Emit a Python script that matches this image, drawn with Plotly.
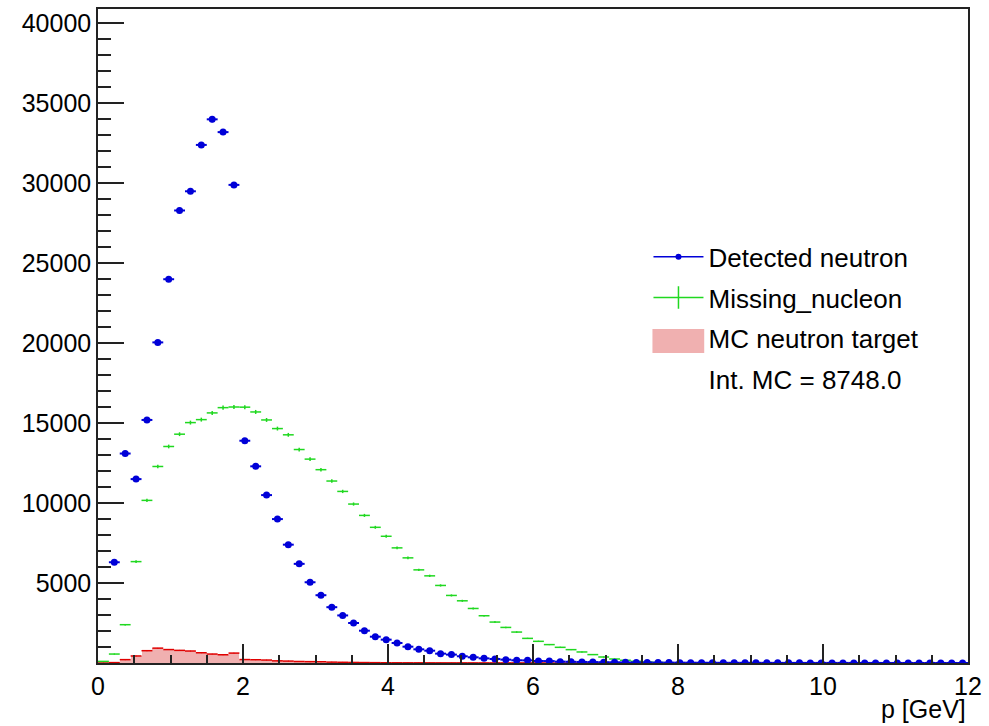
import plotly.graph_objects as go

# Histogram binning: 80 bins of 0.15 GeV from 0 to 12
bin_width = 0.15
bin_centers = [round(0.075 + 0.15 * i, 3) for i in range(80)]

detected_neutron = [
    None, 6300, 13100, 11500, 15200, 20050, 24000, 28300, 29500, 32400,
    34000, 33200, 29900, 13900, 12300, 10500, 9000, 7400, 6200, 5050,
    4240, 3490, 2975, 2500, 2020, 1645, 1460, 1250, 1020, 855,
    770, 585, 525, 420, 355, 290, 250, 210, 170, 165,
    125, 120, 85, 75, 65, 58, 50, 45, 40, 36,
    32, 28, 25, 22, 20, 18, 16, 14, 13, 12,
    11, 10, 9, 8, 8, 7, 7, 6, 6, 5,
    5, 5, 4, 4, 4, 3, 3, 3, 3, 2,
]

missing_nucleon = [
    100, 560, 2395, 6340, 10170, 12290, 13540, 14310, 15035, 15220,
    15640, 15970, 16010, 16000, 15700, 15200, 14660, 14270, 13350, 12750,
    12090, 11380, 10730, 9940, 9230, 8485, 7925, 7200, 6575, 5825,
    5450, 4850, 4225, 3890, 3410, 2955, 2560, 2225, 1935, 1540,
    1355, 1150, 980, 835, 690, 525, 375, 250, 170, 105,
    60, 30, 10, None, None, None, None, None, None, None,
    None, None, None, None, None, None, None, None, None, None,
    None, None, None, None, None, None, None, None, None, None,
]

mc_neutron_target = [
    0, 25, 210, 440, 770, 930, 840, 790, 750, 640,
    560, 515, 620, 215, 205, 185, 135, 120, 95, 85,
    80, 55, 45, 35, 28, 22, 16, 13, 11, 10,
    8, 6, 5, 5, 4, 3, 3, 2, 2, 1,
    1, 0, 0, 0, 0, 0, 0, 0, 0, 0,
    0, 0, 0, 0, 0, 0, 0, 0, 0, 0,
    0, 0, 0, 0, 0, 0, 0, 0, 0, 0,
    0, 0, 0, 0, 0, 0, 0, 0, 0, 0,
]

x_ticks = [0, 2, 4, 6, 8, 10, 12]
y_ticks = [5000, 10000, 15000, 20000, 25000, 30000, 35000, 40000]
mc_integral_text = "Int. MC = 8748.0"

BLUE = "#0000d8"
GREEN = "#20d820"
RED_LINE = "#e00000"
RED_FILL = "#f0b0b0"
FONT = "Liberation Sans, Arial, Helvetica, sans-serif"

# plot-area geometry (pixels) used for paper-coordinate placement of legend key
FIG_W, FIG_H = 989, 726
M_L, M_R, M_T, M_B = 98, 17, 7, 63
PW = FIG_W - M_L - M_R
PH = FIG_H - M_T - M_B


def px_to_paper_x(px):
    return (px - M_L) / PW


def px_to_paper_y(py):
    return (FIG_H - M_B - py) / PH


def sqrt_err(vals):
    return [None if v is None else v ** 0.5 for v in vals]


half_w = [bin_width / 2] * len(bin_centers)

fig = go.Figure()

# MC neutron target: filled histogram + red bin tops
fig.add_trace(go.Bar(
    x=bin_centers, y=mc_neutron_target, width=bin_width,
    marker=dict(color=RED_FILL, line=dict(width=0)),
    showlegend=False, hoverinfo="skip",
))
fig.add_trace(go.Scatter(
    x=bin_centers, y=mc_neutron_target, mode="markers",
    marker=dict(size=1, color=RED_LINE),
    error_x=dict(type="data", array=half_w, color=RED_LINE, thickness=1.5, width=0),
    showlegend=False,
))

# Missing nucleon: crosses
fig.add_trace(go.Scatter(
    x=bin_centers, y=missing_nucleon, mode="markers",
    marker=dict(size=1, color=GREEN),
    error_x=dict(type="data", array=half_w, color=GREEN, thickness=1.5, width=0),
    error_y=dict(type="data", array=sqrt_err(missing_nucleon), color=GREEN, thickness=1.5, width=0),
    showlegend=False,
))

# Detected neutron: dots with error bars
fig.add_trace(go.Scatter(
    x=bin_centers, y=detected_neutron, mode="markers",
    marker=dict(size=7, color=BLUE, symbol="circle"),
    error_x=dict(type="data", array=half_w, color=BLUE, thickness=2, width=0),
    error_y=dict(type="data", array=sqrt_err(detected_neutron), color=BLUE, thickness=2, width=0),
    showlegend=False,
))

# Legend entries
fig.add_trace(go.Scatter(
    x=[None], y=[None], mode="lines+markers", name="Detected neutron",
    line=dict(color=BLUE, width=1.5), marker=dict(size=6, color=BLUE),
    legendgroup="a",
))
fig.add_trace(go.Scatter(
    x=[None], y=[None], mode="lines+markers", name="Missing_nucleon",
    line=dict(color=GREEN, width=1.5),
    marker=dict(size=16, color=GREEN, symbol="line-ns", line=dict(color=GREEN, width=1.5)),
    legendgroup="b",
))
fig.add_trace(go.Scatter(
    x=[None], y=[None], mode="lines", name="MC neutron target",
    line=dict(color="rgba(0,0,0,0)", width=0),
    legendgroup="c",
))
fig.add_trace(go.Scatter(
    x=[None], y=[None], mode="lines", name=mc_integral_text,
    line=dict(color="rgba(0,0,0,0)", width=0),
    legendgroup="d",
))

# Legend key swatch for the filled MC histogram
legend_shapes = [dict(
    type="rect", xref="paper", yref="paper",
    x0=px_to_paper_x(655), x1=px_to_paper_x(707),
    y0=px_to_paper_y(352), y1=px_to_paper_y(328),
    fillcolor=RED_FILL, line=dict(width=0), layer="above",
)]

fig.update_layout(
    width=FIG_W, height=FIG_H,
    margin=dict(l=M_L, r=M_R, t=M_T, b=M_B),
    paper_bgcolor="white", plot_bgcolor="white",
    font=dict(family=FONT, size=25, color="black"),
    barmode="overlay",
    bargap=0,
    legend=dict(
        x=px_to_paper_x(651), y=px_to_paper_y(232), xanchor="left", yanchor="top",
        bgcolor="rgba(0,0,0,0)", borderwidth=0,
        font=dict(family=FONT, size=26, color="black"),
        tracegroupgap=4, traceorder="grouped",
        itemwidth=50,
    ),
    shapes=legend_shapes,
    xaxis=dict(
        range=[0, 12], tickmode="array", tickvals=x_ticks,
        ticks="inside", ticklen=19, tickwidth=1.5, tickcolor="#222",
        minor=dict(tickmode="linear", tick0=0, dtick=0.5, ticks="inside",
                   ticklen=8, tickwidth=1.5, tickcolor="#222"),
        showline=True, linecolor="#222", linewidth=1.5, mirror=True,
        showgrid=False, zeroline=False,
        tickfont=dict(family=FONT, size=25, color="black"),
    ),
    yaxis=dict(
        range=[0, 40900], tickmode="array", tickvals=y_ticks,
        ticks="inside", ticklen=26, tickwidth=1.5, tickcolor="#222",
        minor=dict(tickmode="linear", tick0=0, dtick=1000, ticks="inside",
                   ticklen=13, tickwidth=1.5, tickcolor="#222"),
        showline=True, linecolor="#222", linewidth=1.5, mirror=True,
        showgrid=False, zeroline=False,
        tickformat="d",
        tickfont=dict(family=FONT, size=25, color="black"),
    ),
    annotations=[dict(
        text="p [GeV]", xref="paper", yref="paper", x=1.0, y=-0.07,
        xanchor="right", yanchor="middle", showarrow=False,
        font=dict(family=FONT, size=25, color="black"),
    )],
)

fig.write_html("out.html")
